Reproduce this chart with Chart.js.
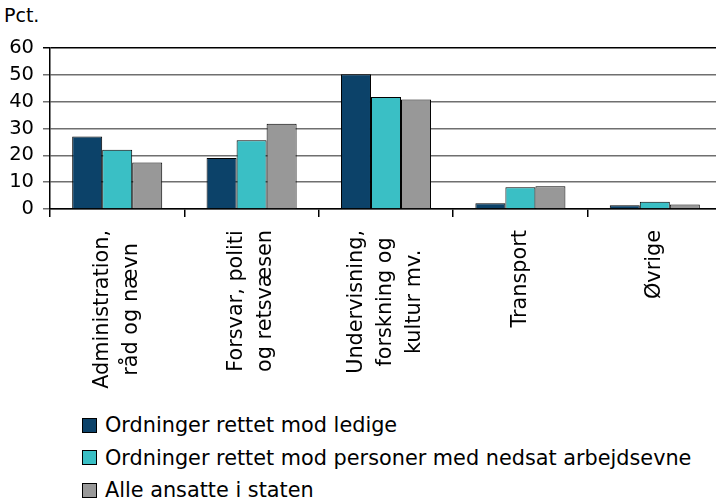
<!DOCTYPE html>
<html>
<head>
<meta charset="utf-8">
<script src="https://cdn.jsdelivr.net/npm/chart.js@4/dist/chart.umd.min.js"></script>
<style>
  html, body { margin: 0; padding: 0; background: #fff; overflow: hidden; width: 716px; height: 502px; }
  body { position: relative; font-family: "DejaVu Sans", sans-serif; color: #000; }
  #unit { position: absolute; left: 4px; top: 4px; font-size: 19px; }
  #chart { position: absolute; left: 0; top: 0; }
  #legend { position: absolute; left: 82px; top: 409px; font-size: 20.8px; }
  .row { height: 32.5px; display: flex; align-items: center; white-space: nowrap; }
  .sw { width: 13px; height: 13px; border: 1px solid #000; margin-right: 8px; box-sizing: content-box; }
</style>
</head>
<body>
<div id="unit">Pct.</div>
<canvas id="chart" width="740" height="400"></canvas>
<div id="legend"></div>
<script>
// categories (multi-line labels) and the three series, in pct.
const categories = [
  ["Administration,", "råd og nævn"],
  ["Forsvar, politi", "og retsvæsen"],
  ["Undervisning,", "forskning og", "kultur mv."],
  ["Transport"],
  ["Øvrige"],
];
const ledige = [27.0, 19.0, 50.2, 2.1, 1.4];
const nedsat = [22.1, 25.6, 41.7, 8.1, 2.7];
const alle = [17.3, 31.8, 40.8, 8.5, 1.7];
const seriesNames = [
  "Ordninger rettet mod ledige",
  "Ordninger rettet mod personer med nedsat arbejdsevne",
  "Alle ansatte i staten",
];
const yTicks = [0, 10, 20, 30, 40, 50, 60];

const COLORS = ["#0c4269", "#3abfc5", "#989898"];
const FONT = '"DejaVu Sans", sans-serif';

Chart.defaults.font.family = FONT;
Chart.defaults.color = "#000";

// rotated x labels with the lines centred on each other, placed off the x scale
const catLabels = {
  id: "catLabels",
  afterDraw(chart) {
    const x = chart.scales.x;
    const ctx = chart.ctx;
    const lineH = 29;
    const pad = 21;
    ctx.save();
    ctx.font = "20.8px " + FONT;
    ctx.fillStyle = "#000";
    ctx.textAlign = "center";
    ctx.textBaseline = "middle";
    categories.forEach((lines, i) => {
      const w = Math.max(...lines.map((l) => ctx.measureText(l).width));
      ctx.save();
      ctx.translate(x.getPixelForValue(i), x.top);
      ctx.rotate(-Math.PI / 2);
      lines.forEach((l, j) => {
        ctx.fillText(l, -(pad + w / 2), (j - (lines.length - 1) / 2) * lineH);
      });
      ctx.restore();
    });
    ctx.restore();
  },
};

const mk = (label, data, i) => ({
  label, data,
  backgroundColor: COLORS[i],
  borderColor: "#000",
  borderWidth: 1,
  borderSkipped: "bottom",
});

new Chart(document.getElementById("chart"), {
  type: "bar",
  data: {
    labels: categories.map((c) => c.join(" ")),
    datasets: [
      mk(seriesNames[0], ledige, 0),
      mk(seriesNames[1], nedsat, 1),
      mk(seriesNames[2], alle, 2),
    ],
  },
  options: {
    responsive: false,
    animation: false,
    devicePixelRatio: 1,
    layout: { padding: { top: 48, right: 18, left: 0, bottom: 0 } },
    datasets: { bar: { categoryPercentage: 0.67, barPercentage: 1.0 } },
    scales: {
      x: {
        afterFit: (s) => { s.height = 191; },
        border: { color: "#000", width: 1.5 },
        grid: { drawOnChartArea: false, tickLength: 8, color: "#000", lineWidth: 1.5 },
        ticks: { display: false },
      },
      y: {
        min: 0, max: 60,
        afterFit: (s) => { s.width = 50; },
        afterBuildTicks: (s) => { s.ticks = yTicks.map((v) => ({ value: v })); },
        border: { color: "#000", width: 1.5 },
        grid: {
          color: (c) => (c.tick && c.tick.value === 60 ? "#000" : "#6f6f6f"),
          lineWidth: 1.5,
          tickLength: 7,
        },
        ticks: { padding: 9, font: { size: 19.5 }, color: "#000" },
      },
    },
    plugins: { legend: { display: false }, tooltip: { enabled: false } },
  },
  plugins: [catLabels],
});

// legend: one entry per row, left aligned
const legend = document.getElementById("legend");
seriesNames.forEach((name, i) => {
  const row = document.createElement("div");
  row.className = "row";
  row.innerHTML = `<span class="sw" style="background:${COLORS[i]}"></span><span>${name}</span>`;
  legend.appendChild(row);
});
</script>
</body>
</html>
